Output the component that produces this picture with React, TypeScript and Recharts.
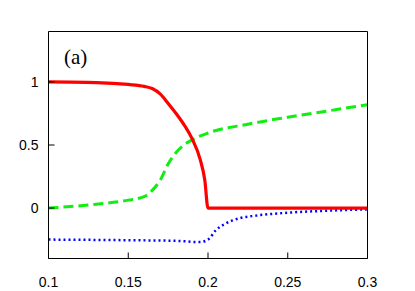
import React from "react";
import { Line, LineChart, XAxis, YAxis } from "recharts";

const xTicks = [0.1, 0.15, 0.2, 0.25, 0.3];
const yTicks = [0, 0.5, 1];

const redX = [0.1, 0.13, 0.15, 0.16, 0.165, 0.17, 0.175, 0.18, 0.185, 0.19, 0.195, 0.198, 0.2, 0.25, 0.3];
const redY = [1, 0.995, 0.98, 0.965, 0.948, 0.905, 0.83, 0.75, 0.66, 0.55, 0.39, 0.22, 0, 0, 0];

const greenX = [0.1, 0.13, 0.15, 0.16, 0.165, 0.17, 0.175, 0.18, 0.185, 0.19, 0.2, 0.225, 0.25, 0.275, 0.3];
const greenY = [0, 0.03, 0.063, 0.09, 0.14, 0.22, 0.35, 0.44, 0.5, 0.54, 0.595, 0.665, 0.72, 0.77, 0.82];

const blueX = [0.1, 0.15, 0.18, 0.195, 0.2, 0.205, 0.21, 0.22, 0.23, 0.25, 0.275, 0.3];
const blueY = [-0.25, -0.255, -0.26, -0.27, -0.25, -0.175, -0.13, -0.08, -0.06, -0.037, -0.021, -0.01];

const toRows = (xs: number[], ys: number[]) => xs.map((x, i) => ({ x, y: ys[i] }));

const tickStyle = { fill: "#000", fontSize: 14, fontFamily: "Liberation Sans, Arial, sans-serif" };

export default function App() {
  return (
    <div style={{ position: "absolute", left: 0, top: 0, width: 415, height: 291, background: "#fff" }}>
      <LineChart width={415} height={291} margin={{ top: 30.5, right: 46.5, left: 0, bottom: 0 }}>
        <XAxis
          dataKey="x"
          type="number"
          domain={[0.1, 0.3]}
          ticks={xTicks}
          height={32.5}
          tickSize={-6}
          tickMargin={25}
          tick={tickStyle}
          stroke="#000"
          allowDataOverflow
        />
        <XAxis
          xAxisId="top"
          orientation="top"
          dataKey="x"
          type="number"
          domain={[0.1, 0.3]}
          ticks={xTicks}
          height={1}
          tickSize={-6}
          tick={false}
          stroke="#000"
        />
        <YAxis
          type="number"
          domain={[-0.4, 1.4]}
          ticks={yTicks}
          width={48.5}
          tickSize={-6}
          tickMargin={16}
          tick={tickStyle}
          stroke="#000"
          allowDataOverflow
        />
        <YAxis
          yAxisId="right"
          orientation="right"
          type="number"
          domain={[-0.4, 1.4]}
          ticks={yTicks}
          width={1}
          tickSize={-6}
          tick={false}
          stroke="#000"
        />
        <Line
          data={toRows(blueX, blueY)}
          dataKey="y"
          type="monotone"
          stroke="#0000ff"
          strokeWidth={2.5}
          strokeDasharray="2 3"
          dot={false}
          isAnimationActive={false}
        />
        <Line
          data={toRows(greenX, greenY)}
          dataKey="y"
          type="monotone"
          stroke="#11ee11"
          strokeWidth={3}
          strokeDasharray="10 5"
          dot={false}
          isAnimationActive={false}
        />
        <Line
          data={toRows(redX, redY)}
          dataKey="y"
          type="monotone"
          stroke="#ff0000"
          strokeWidth={3.2}
          dot={false}
          isAnimationActive={false}
        />
      </LineChart>
      <div
        style={{
          position: "absolute",
          left: 64,
          top: 45,
          fontFamily: "Liberation Serif, Times New Roman, serif",
          fontSize: 21,
          color: "#000",
        }}
      >
        (a)
      </div>
    </div>
  );
}
